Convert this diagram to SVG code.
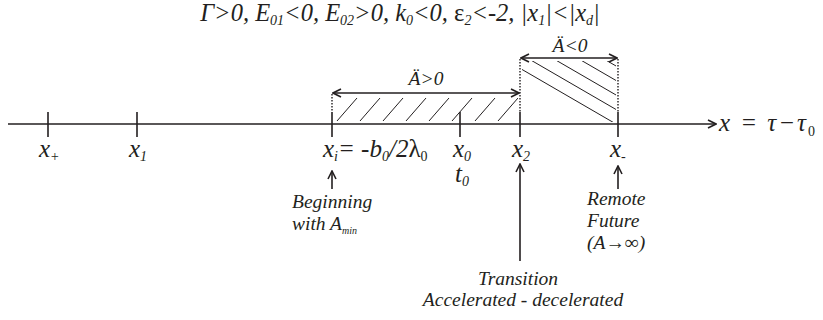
<svg xmlns="http://www.w3.org/2000/svg" width="823" height="320" viewBox="0 0 823 320" font-family="'Liberation Serif', 'DejaVu Serif', serif">
<style>
text{font-family:"Liberation Serif","DejaVu Serif","Noto Serif",serif;font-style:italic;fill:#231f20}
.lbl{font-size:25px}
.sub{font-size:14px}
.tsub{font-size:14px}
.note{font-size:19.5px}
.title{font-size:24.5px}
.ln{stroke:#231f20;stroke-width:1.6;fill:none}
.tick{stroke:#231f20;stroke-width:1.6}
.dot{stroke:#231f20;stroke-width:1.4;stroke-dasharray:1.5 1.5}
.hatch{stroke:#231f20;stroke-width:1}
</style>
<defs>
<marker id="ah" viewBox="0 0 10 10" refX="9" refY="5" markerWidth="10" markerHeight="10" markerUnits="userSpaceOnUse" orient="auto-start-reverse">
<path d="M1,1 L9,5 L1,9" fill="none" stroke="#231f20" stroke-width="1.6"/>
</marker>
<clipPath id="cl"><rect x="334" y="97" width="184" height="25"/></clipPath>
<clipPath id="cr"><rect x="522" y="61" width="94" height="61"/></clipPath>
</defs>

<g id="title">
<text class="title" x="400" y="21" text-anchor="middle">Γ&gt;0, E<tspan class="tsub" dy="4">01</tspan><tspan dy="-4">&lt;0, E</tspan><tspan class="tsub" dy="4">02</tspan><tspan dy="-4">&gt;0, k</tspan><tspan class="tsub" dy="4">0</tspan><tspan dy="-4">&lt;0, </tspan><tspan font-style="normal">ε</tspan><tspan class="tsub" dy="4">2</tspan><tspan dy="-4">&lt;-2, |x</tspan><tspan class="tsub" dy="4">1</tspan><tspan dy="-4">|&lt;|x</tspan><tspan class="tsub" dy="4">d</tspan><tspan dy="-4">|</tspan></text>
</g>

<g id="regions">
<g clip-path="url(#cl)">
<path class="hatch" d="M337,121 L357,98 M360,121 L380,98 M383,121 L403,98 M406,121 L426,98 M429,121 L449,98 M452,121 L472,98 M475,121 L495,98 M498,121 L518,98"/>
</g>
<g clip-path="url(#cr)">
<path class="hatch" d="M500,56.7 L640,137.9 M500,42.2 L640,123.4 M500,27.7 L640,108.9 M500,13.2 L640,94.4 M500,-1.3 L640,79.9 M500,-15.8 L640,65.4 M500,-30.3 L640,50.9"/>
</g>
</g>

<g id="connectors">
<line class="ln" x1="8" y1="124" x2="716" y2="124" marker-end="url(#ah)"/>
<line class="dot" x1="332" y1="94" x2="332" y2="112"/>
<line class="dot" x1="520" y1="59" x2="520" y2="112"/>
<line class="dot" x1="618" y1="59" x2="618" y2="112"/>
<line class="ln" x1="333" y1="93" x2="519" y2="93" marker-start="url(#ah)" marker-end="url(#ah)"/>
<line class="ln" x1="521" y1="58" x2="617" y2="58" marker-start="url(#ah)" marker-end="url(#ah)"/>
<line class="ln" x1="332" y1="189" x2="332" y2="171" marker-end="url(#ah)"/>
<line class="ln" x1="520" y1="261" x2="520" y2="164" marker-end="url(#ah)"/>
<line class="ln" x1="618" y1="189" x2="618" y2="166" marker-end="url(#ah)"/>
</g>

<g id="range-acc">
<text class="note" x="426" y="85" text-anchor="middle">Ä&gt;0</text>
</g>
<g id="range-dec">
<text class="note" x="570" y="52" text-anchor="middle">Ä&lt;0</text>
</g>

<g id="node-xplus">
<line class="tick" x1="48" y1="112" x2="48" y2="137"/>
<text class="lbl" x="39" y="157">x<tspan class="sub" dy="4">+</tspan></text>
</g>
<g id="node-x1">
<line class="tick" x1="137" y1="112" x2="137" y2="137"/>
<text class="lbl" x="129" y="157">x<tspan class="sub" dy="4">1</tspan></text>
</g>
<g id="node-xi">
<line class="tick" x1="332" y1="112" x2="332" y2="137"/>
<text class="lbl" x="323" y="157">x<tspan class="sub" dy="4">i</tspan><tspan dy="-4">= -b</tspan><tspan class="sub" dy="4">0</tspan><tspan dy="-4">/2</tspan><tspan font-style="normal">λ</tspan><tspan class="sub" font-style="normal" dy="4">0</tspan></text>
<text class="note" x="292" y="208">Beginning</text>
<text class="note" x="292" y="230">with A<tspan font-size="10" dy="4">min</tspan></text>
</g>
<g id="node-x0">
<line class="tick" x1="460" y1="112" x2="460" y2="137"/>
<text class="lbl" x="453" y="157">x<tspan class="sub" dy="4">0</tspan></text>
<text class="lbl" x="455" y="182">t<tspan class="sub" dy="4">0</tspan></text>
</g>
<g id="node-x2">
<line class="tick" x1="520" y1="112" x2="520" y2="137"/>
<text class="lbl" x="512" y="157">x<tspan class="sub" dy="4">2</tspan></text>
<text class="note" x="518" y="285" text-anchor="middle">Transition</text>
<text class="note" x="523" y="306" text-anchor="middle">Accelerated - decelerated</text>
</g>
<g id="node-xminus">
<line class="tick" x1="618" y1="112" x2="618" y2="137"/>
<text class="lbl" x="610" y="157">x<tspan class="sub" dy="4">-</tspan></text>
<text class="note" x="587" y="205">Remote</text>
<text class="note" x="587" y="227">Future</text>
<text class="note" x="587" y="249">(A→∞)</text>
</g>
<g id="axis-label">
<text class="lbl" x="719" y="131" font-size="26" textLength="96" lengthAdjust="spacing">x = τ−τ<tspan class="sub" font-style="normal" dy="5">0</tspan></text>
</g>
</svg>
